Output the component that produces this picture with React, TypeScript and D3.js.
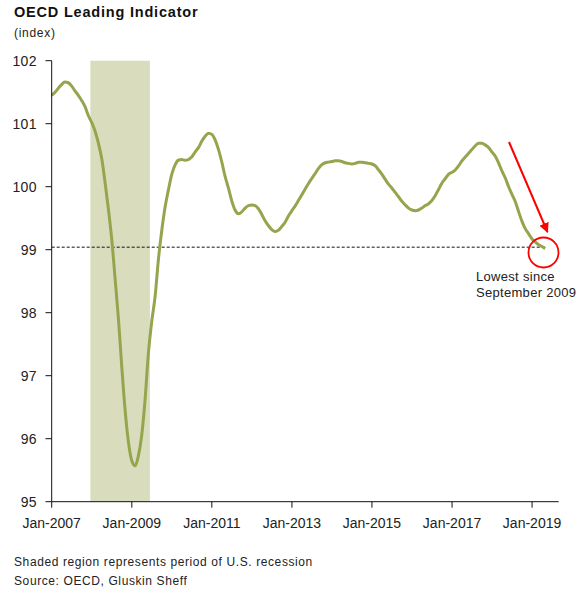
import React from "react";
import * as d3 from "d3";

const title = "OECD Leading Indicator";
const unitLabel = "(index)";
const footnotes = ["Shaded region represents period of U.S. recession", "Source: OECD, Gluskin Sheff"];
const annotation = ["Lowest since", "September 2009"];

const startYear = 2007;
// Monthly values, Jan-2007 onwards
const values: number[] = [
  // 2007
  101.45, 101.5, 101.56, 101.62, 101.66, 101.65, 101.6, 101.52, 101.45, 101.37, 101.27, 101.13,
  // 2008
  101.02, 100.88, 100.7, 100.45, 100.08, 99.65, 99.18, 98.55, 97.9, 97.15, 96.45, 95.95,
  // 2009
  95.65, 95.57, 95.72, 96.05, 96.6, 97.35, 97.85, 98.25, 98.85, 99.3, 99.68, 99.95,
  // 2010
  100.2, 100.35, 100.42, 100.43, 100.42, 100.43, 100.47, 100.55, 100.62, 100.72, 100.8, 100.85,
  // 2011
  100.83, 100.74, 100.6, 100.4, 100.17, 99.98, 99.78, 99.63, 99.57, 99.6, 99.66, 99.7,
  // 2012
  99.71, 99.7, 99.65, 99.56, 99.46, 99.38, 99.32, 99.29, 99.31, 99.37, 99.44, 99.54,
  // 2013
  99.62, 99.7, 99.78, 99.87, 99.96, 100.05, 100.13, 100.21, 100.29, 100.35, 100.38, 100.39,
  // 2014
  100.4, 100.41, 100.41, 100.4, 100.38, 100.37, 100.36, 100.37, 100.39, 100.39, 100.38, 100.37,
  // 2015
  100.36, 100.33, 100.27, 100.2, 100.12, 100.04, 99.98, 99.91, 99.84, 99.77, 99.71, 99.66,
  // 2016
  99.63, 99.62, 99.63, 99.66, 99.7, 99.73, 99.78, 99.86, 99.96, 100.06, 100.13, 100.2,
  // 2017
  100.23, 100.27, 100.33, 100.41, 100.47, 100.53, 100.59, 100.65, 100.69, 100.69, 100.66, 100.62,
  // 2018
  100.55, 100.48, 100.38, 100.25, 100.14, 100.0, 99.88, 99.76, 99.6, 99.45, 99.33, 99.25,
  // 2019
  99.17, 99.12, 99.08, 99.05, 99.02,
];

const yTicks = [95, 96, 97, 98, 99, 100, 101, 102];
const xTickYears = [2007, 2009, 2011, 2013, 2015, 2017, 2019];
const recession = [new Date(2007, 11, 20), new Date(2009, 5, 15)];
const thresholdValue = 99.04;

const W = 584;
const H = 593;
const font = "'Liberation Sans', Arial, sans-serif";

export default function App() {
  const data = values.map((v, i) => ({ date: new Date(startYear, i, 1), value: v }));
  const x = d3
    .scaleTime()
    .domain([new Date(2007, 0, 1), new Date(2019, 8, 1)])
    .range([51.7, 558.7]);
  const y = d3.scaleLinear().domain([95, 102]).range([501.7, 60.7]);

  const line = d3
    .line<{ date: Date; value: number }>()
    .x((d) => x(d.date))
    .y((d) => y(d.value))
    .curve(d3.curveMonotoneX);

  const last = data[data.length - 1];
  const lx = x(last.date);

  return (
    <svg width={W} height={H} style={{ display: "block", position: "absolute", left: 0, top: 0 }} fontFamily={font}>
      <defs>
        <marker id="arrowhead" viewBox="0 0 10 10" refX="9" refY="5" markerWidth="5" markerHeight="5" orient="auto">
          <path d="M0,0 L10,5 L0,10 z" fill="#ff0000" />
        </marker>
      </defs>
      <rect width={W} height={H} fill="#fff" />
      <text x={14} y={17} fontSize={14.5} fontWeight="bold" letterSpacing={0.8} fill="#111">{title}</text>
      <text x={14} y={37} fontSize={12} letterSpacing={0.7} fill="#222">{unitLabel}</text>

      <rect
        x={x(recession[0])}
        y={y(102)}
        width={x(recession[1]) - x(recession[0])}
        height={y(95) - y(102)}
        fill="#d9ddbd"
      />

      <line
        x1={x(new Date(2007, 0, 1))}
        x2={lx}
        y1={y(thresholdValue)}
        y2={y(thresholdValue)}
        stroke="#111"
        strokeWidth={1}
        strokeDasharray="3,2"
      />

      <path d={line(data) || ""} fill="none" stroke="#95a54d" strokeWidth={3} strokeLinejoin="round" />

      {/* Y axis */}
      <line x1={51.7} x2={51.7} y1={y(102)} y2={y(95)} stroke="#111" strokeWidth={1} />
      {yTicks.map((t) => (
        <g key={t}>
          <line x1={45.5} x2={51.7} y1={y(t)} y2={y(t)} stroke="#111" />
          <text x={37} y={y(t)} dy="0.35em" textAnchor="end" fontSize={14} letterSpacing={0.4} fill="#222">{t}</text>
        </g>
      ))}

      {/* X axis */}
      <line x1={51.7} x2={558.7} y1={y(95)} y2={y(95)} stroke="#111" strokeWidth={1} />
      {xTickYears.map((yr) => {
        const xx = x(new Date(yr, 0, 1));
        return (
          <g key={yr}>
            <line x1={xx} x2={xx} y1={y(95)} y2={y(95) + 6} stroke="#111" />
            <text x={xx} y={528} textAnchor="middle" fontSize={14} fill="#222">{`Jan-${yr}`}</text>
          </g>
        );
      })}

      {/* Annotation */}
      <line x1={509} y1={142} x2={547.5} y2={232} stroke="#ff0000" strokeWidth={2} markerEnd="url(#arrowhead)" />
      <circle cx={543.5} cy={252.5} r={15} fill="none" stroke="#ff0000" strokeWidth={1.8} />
      <text x={476} y={281} fontSize={13} letterSpacing={0.3} fill="#222">{annotation[0]}</text>
      <text x={476} y={297} fontSize={13} letterSpacing={0.3} fill="#222">{annotation[1]}</text>

      {footnotes.map((f, i) => (
        <text key={i} x={14} y={566 + i * 19} fontSize={12} letterSpacing={0.6} fill="#222">{f}</text>
      ))}
    </svg>
  );
}
